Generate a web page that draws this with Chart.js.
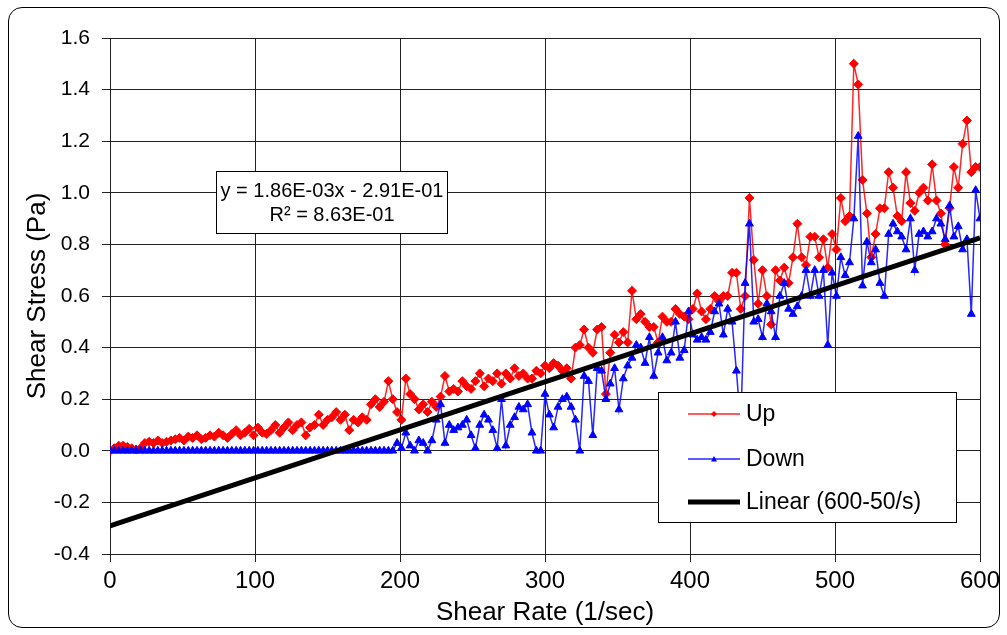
<!DOCTYPE html>
<html>
<head>
<meta charset="utf-8">
<script src="https://cdn.jsdelivr.net/npm/chart.js@4/dist/chart.umd.min.js"></script>
<style>
  body { margin: 0; background: #fff; }
  #frame { position: absolute; left: 8px; top: 7px; width: 990px; height: 619px; border: 1.5px solid #000; border-radius: 14px; }
  #wrap { position: absolute; left: 0; top: 0; width: 1007px; height: 635px; }
</style>
</head>
<body>
<div id="frame"></div>
<div id="wrap"><canvas id="shearChart" width="1007" height="635"></canvas></div>
<script>
// shear rate, 1/sec
const shearRate = [
  0, 3, 6, 9, 12, 15, 18, 21, 24, 27,
  30, 33, 36, 39, 42, 45, 48, 51, 54, 57,
  60, 63, 66, 69, 72, 75, 78, 81, 84, 87,
  90, 93, 96, 99, 102, 105, 108, 111, 114, 117,
  120, 123, 126, 129, 132, 135, 138, 141, 144, 147,
  150, 153, 156, 159, 162, 165, 168, 171, 174, 177,
  180, 183, 186, 189, 192, 195, 198, 201, 204, 207,
  210, 213, 216, 219, 222, 225, 228, 231, 234, 237,
  240, 243, 246, 249, 252, 255, 258, 261, 264, 267,
  270, 273, 276, 279, 282, 285, 288, 291, 294, 297,
  300, 303, 306, 309, 312, 315, 318, 321, 324, 327,
  330, 333, 336, 339, 342, 345, 348, 351, 354, 357,
  360, 363, 366, 369, 372, 375, 378, 381, 384, 387,
  390, 393, 396, 399, 402, 405, 408, 411, 414, 417,
  420, 423, 426, 429, 432, 435, 438, 441, 444, 447,
  450, 453, 456, 459, 462, 465, 468, 471, 474, 477,
  480, 483, 486, 489, 492, 495, 498, 501, 504, 507,
  510, 513, 516, 519, 522, 525, 528, 531, 534, 537,
  540, 543, 546, 549, 552, 555, 558, 561, 564, 567,
  570, 573, 576, 579, 582, 585, 588, 591, 594, 597,
  600
];

// shear stress, Pa
const upStress = [
  0.00, 0.01, 0.02, 0.02, 0.015, 0.01, 0.005, 0.01, 0.03, 0.035,
  0.03, 0.04, 0.03, 0.035, 0.04, 0.045, 0.05, 0.04, 0.055, 0.05,
  0.06, 0.045, 0.05, 0.06, 0.055, 0.07, 0.06, 0.05, 0.065, 0.08,
  0.06, 0.07, 0.085, 0.06, 0.09, 0.07, 0.065, 0.08, 0.1, 0.07,
  0.09, 0.11, 0.08, 0.1, 0.11, 0.06, 0.09, 0.1, 0.14, 0.1,
  0.12, 0.13, 0.15, 0.12, 0.14, 0.08, 0.12, 0.11, 0.13, 0.12,
  0.18, 0.2, 0.17, 0.19, 0.27, 0.2, 0.15, 0.12, 0.28, 0.22,
  0.2, 0.16, 0.18, 0.15, 0.19, 0.17, 0.21, 0.29, 0.23, 0.24,
  0.23, 0.27, 0.25, 0.24, 0.27, 0.3, 0.25, 0.28, 0.27, 0.3,
  0.26, 0.3, 0.28, 0.32, 0.29, 0.3, 0.28, 0.28, 0.31, 0.3,
  0.33, 0.32, 0.34, 0.33, 0.31, 0.32, 0.28, 0.4, 0.41, 0.47,
  0.4, 0.38, 0.47, 0.48, 0.22, 0.38, 0.45, 0.42, 0.46, 0.42,
  0.62, 0.51, 0.53, 0.5, 0.48, 0.48, 0.42, 0.52, 0.5, 0.5,
  0.55, 0.53, 0.52, 0.51, 0.55, 0.61, 0.54, 0.51, 0.55, 0.6,
  0.58, 0.6, 0.6, 0.69, 0.69, 0.55, 0.6, 0.98, 0.74, 0.57,
  0.7, 0.6, 0.49, 0.7, 0.66, 0.71, 0.65, 0.75, 0.88, 0.75,
  0.72, 0.83, 0.83, 0.75, 0.82, 0.71, 0.84, 0.78, 0.98, 0.89,
  0.91, 1.5, 1.42, 1.05, 0.92, 0.75, 0.84, 0.94, 0.94, 1.08,
  1.02, 0.91, 0.89, 1.08, 0.96, 0.93, 1.0, 1.02, 0.97, 1.11,
  0.97, 0.92, 0.8, 0.94, 1.1, 1.02, 1.19, 1.28, 1.08, 1.1,
  1.1
];

const downStress = [
  0, 0, 0, 0, 0, 0, 0, 0, 0, 0,
  0, 0, 0, 0, 0, 0, 0, 0, 0, 0,
  0, 0, 0, 0, 0, 0, 0, 0, 0, 0,
  0, 0, 0, 0, 0, 0, 0, 0, 0, 0,
  0, 0, 0, 0, 0, 0, 0, 0, 0, 0,
  0, 0, 0, 0, 0, 0, 0, 0, 0, 0,
  0, 0, 0, 0, 0, 0, 0.03, 0.01, 0.07, 0.02,
  0.0, 0.04, 0.03, 0.0, 0.04, 0.12, 0.18, 0.03, 0.1, 0.08,
  0.09, 0.1, 0.12, 0.06, 0.01, 0.1, 0.14, 0.12, 0.08, 0.01,
  0.2, 0.02, 0.1, 0.13, 0.17, 0.16, 0.18, 0.07, 0.0, 0.0,
  0.22, 0.14, 0.09, 0.17, 0.2, 0.21, 0.17, 0.12, 0.0, 0.29,
  0.27, 0.06, 0.32, 0.31, 0.2, 0.26, 0.32, 0.16, 0.28, 0.33,
  0.36, 0.41, 0.4, 0.34, 0.44, 0.29, 0.38, 0.44, 0.35, 0.38,
  0.5, 0.36, 0.39, 0.54, 0.45, 0.43, 0.44, 0.43, 0.46, 0.54,
  0.57, 0.45, 0.55, 0.5, 0.31, 0.1, 0.65, 0.88, 0.5, 0.51,
  0.44, 0.57, 0.54, 0.44, 0.6, 0.65, 0.55, 0.53, 0.56, 0.6,
  0.7, 0.6, 0.7, 0.6, 0.7, 0.41, 0.69, 0.6, 0.75, 0.68,
  0.73, 0.9, 1.22, 0.64, 0.81, 0.73, 0.78, 0.65, 0.6, 0.84,
  0.88, 0.85, 0.83, 0.78, 0.9, 0.7, 0.84, 0.85, 0.83, 0.85,
  0.9, 0.88, 0.82, 0.95, 0.83, 0.87, 0.78, 0.82, 0.53, 1.01,
  0.9
];

// linear trendline end points (600-50/s)
const trendX = [0, 600];
const trendY = [-0.291, 0.825];

const seriesNames = ['Up', 'Down', 'Linear (600-50/s)'];
const equationLines = ['y = 1.86E-03x - 2.91E-01', 'R\u00b2 = 8.63E-01'];

const xTicks = [0, 100, 200, 300, 400, 500, 600];
const yTicks = [-0.4, -0.2, 0.0, 0.2, 0.4, 0.6, 0.8, 1.0, 1.2, 1.4, 1.6];

const FONT = '"Liberation Sans", Arial, sans-serif';

function toPoints(xs, ys) {
  return xs.map((x, i) => ({ x: x, y: ys[i] }));
}

function drawMarker(ctx, style, x, y, r, color) {
  ctx.fillStyle = color;
  ctx.beginPath();
  if (style === 'rectRot') {
    ctx.moveTo(x, y - r); ctx.lineTo(x + r, y); ctx.lineTo(x, y + r); ctx.lineTo(x - r, y);
  } else {
    ctx.moveTo(x, y - r); ctx.lineTo(x + r, y + r * 0.8); ctx.lineTo(x - r, y + r * 0.8);
  }
  ctx.closePath();
  ctx.fill();
}

// legend box and trendline equation, drawn over the data like the original
const boxesPlugin = {
  id: 'boxes',
  afterDatasetsDraw(chart) {
    const ctx = chart.ctx;
    ctx.save();
    ctx.lineWidth = 1;
    ctx.strokeStyle = '#000';

    // equation box
    ctx.fillStyle = '#fff';
    ctx.fillRect(216.5, 171.5, 231, 62);
    ctx.strokeRect(216.5, 171.5, 231, 62);
    ctx.fillStyle = '#000';
    ctx.font = '20px ' + FONT;
    ctx.textAlign = 'center';
    ctx.textBaseline = 'middle';
    ctx.fillText(equationLines[0], 332, 191);
    ctx.fillText(equationLines[1], 332, 215);

    // legend
    ctx.fillStyle = '#fff';
    ctx.fillRect(658.5, 392.5, 298, 130);
    ctx.strokeStyle = '#000';
    ctx.strokeRect(658.5, 392.5, 298, 130);
    ctx.textAlign = 'left';
    ctx.font = '23px ' + FONT;
    const rows = [414, 459, 502];
    chart.data.datasets.forEach((ds, i) => {
      const y = rows[i];
      ctx.strokeStyle = ds.borderColor;
      ctx.lineWidth = ds.borderWidth;
      ctx.beginPath();
      ctx.moveTo(688, y);
      ctx.lineTo(740, y);
      ctx.stroke();
      if (ds.pointRadius > 0) {
        drawMarker(ctx, ds.pointStyle, 714, y, 3, ds.pointBackgroundColor);
      }
      ctx.fillStyle = '#000';
      ctx.fillText(ds.label, 746, y + 1);
    });
    ctx.restore();
  }
};

new Chart(document.getElementById('shearChart'), {
  type: 'line',
  data: {
    datasets: [
      {
        label: seriesNames[0],
        data: toPoints(shearRate, upStress),
        borderColor: 'rgba(255,0,0,0.85)',
        borderWidth: 1.5,
        pointStyle: 'rectRot',
        pointRadius: 4.5,
        pointBackgroundColor: '#ff0000',
        pointBorderColor: '#ff0000',
        pointBorderWidth: 1,
        tension: 0,
        order: 2
      },
      {
        label: seriesNames[1],
        data: toPoints(shearRate, downStress),
        borderColor: 'rgba(0,0,255,0.85)',
        borderWidth: 1.5,
        pointStyle: 'triangle',
        pointRadius: 4.5,
        pointBackgroundColor: '#0000ff',
        pointBorderColor: '#0000ff',
        pointBorderWidth: 1,
        tension: 0,
        order: 1
      },
      {
        label: seriesNames[2],
        data: toPoints(trendX, trendY),
        borderColor: '#000',
        borderWidth: 5,
        pointRadius: 0,
        tension: 0,
        order: 0
      }
    ]
  },
  options: {
    responsive: false,
    animation: false,
    devicePixelRatio: 1,
    layout: { padding: { left: 22, top: 38, right: 27, bottom: 7 } },
    plugins: {
      legend: { display: false },
      tooltip: { enabled: false }
    },
    scales: {
      x: {
        type: 'linear',
        min: 0,
        max: 600,
        afterBuildTicks: axis => { axis.ticks = xTicks.map(v => ({ value: v })); },
        afterFit: axis => { axis.height = 74; },
        ticks: { color: '#000', font: { family: FONT, size: 24 }, padding: 5, maxRotation: 0 },
        grid: { color: '#222', lineWidth: 1, tickLength: 8 },
        border: { color: '#222', width: 1 },
        title: { display: true, text: 'Shear Rate (1/sec)', color: '#000', font: { family: FONT, size: 26 }, padding: { top: 0, bottom: 0 } }
      },
      y: {
        type: 'linear',
        min: -0.4,
        max: 1.6,
        afterBuildTicks: axis => { axis.ticks = yTicks.map(v => ({ value: v })); },
        afterFit: axis => { axis.width = 88; },
        ticks: { color: '#000', font: { family: FONT, size: 21 }, padding: 12, callback: v => (Math.abs(v) < 1e-9 ? 0 : v).toFixed(1) },
        grid: { color: '#222', lineWidth: 1, tickLength: 8 },
        border: { color: '#222', width: 1 },
        title: { display: true, text: 'Shear Stress (Pa)', color: '#000', font: { family: FONT, size: 26 }, padding: { top: 0, bottom: 0 } }
      }
    }
  },
  plugins: [boxesPlugin]
});
</script>
</body>
</html>
